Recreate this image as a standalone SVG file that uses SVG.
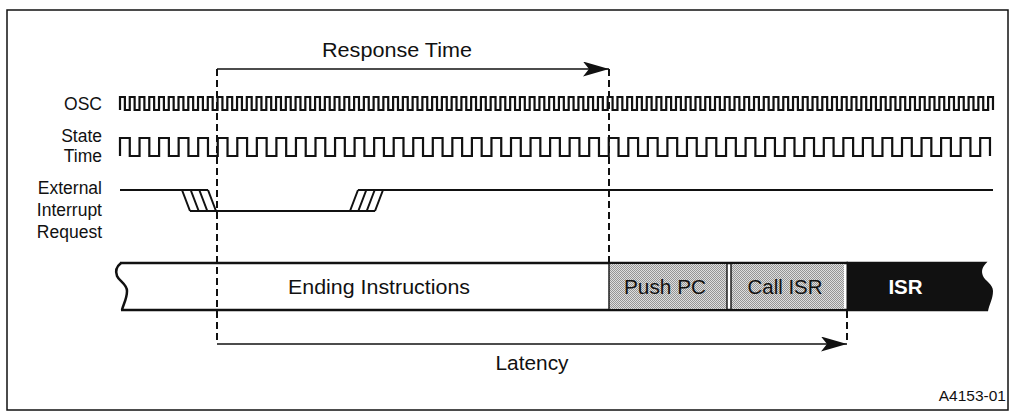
<svg xmlns="http://www.w3.org/2000/svg" width="1015" height="417" viewBox="0 0 1015 417">
<defs>
<style>
.lbl{font-family:"Liberation Sans",Arial,sans-serif;font-size:17.5px;fill:#111;text-anchor:end}
.big{font-family:"Liberation Sans",Arial,sans-serif;font-size:20.5px;fill:#111;text-anchor:middle}
.wave{fill:none;stroke:#111;stroke-width:2.2;stroke-linejoin:miter}
.dash{fill:none;stroke:#111;stroke-width:2;stroke-dasharray:7 4}
.arr{fill:none;stroke:#111;stroke-width:1.3}
.edge{fill:none;stroke:#111;stroke-width:2.5}
.thin{fill:none;stroke:#111;stroke-width:1.4}
.hat{fill:none;stroke:#111;stroke-width:2}
</style>
<pattern id="stip" patternUnits="userSpaceOnUse" width="2" height="2">
<rect width="2" height="2" fill="#dedede"/>
<rect width="1" height="1" fill="#959595"/>
<rect x="1" y="1" width="1" height="1" fill="#959595"/>
</pattern>
<marker id="ah" markerUnits="userSpaceOnUse" markerWidth="26" markerHeight="15" refX="26" refY="7.5" orient="auto">
<path d="M0,0 L26,7.5 L0,15 L6,7.5 Z" fill="#111"/>
</marker>
</defs>
<rect x="7" y="10" width="1001" height="400" fill="#fff" stroke="#111" stroke-width="1.5"/>

<g id="labels">
<text class="lbl" x="102" y="110">OSC</text>
<text class="lbl" x="102" y="141.5">State</text>
<text class="lbl" x="102" y="161.5">Time</text>
<text class="lbl" x="102" y="194">External</text>
<text class="lbl" x="102" y="216">Interrupt</text>
<text class="lbl" x="102" y="238">Request</text>
</g>

<g id="osc">
<path class="wave" d="M120,110
v-13h4.877v13h4.877v-13h4.877v13h4.877v-13h4.877v13h4.877v-13h4.877v13h4.877v-13h4.877v13h4.877v-13h4.877v13h4.877v-13h4.877v13h4.877v-13h4.877v13h4.877v-13h4.877v13h4.877v-13h4.877v13h4.877
v-13h4.877v13h4.877v-13h4.877v13h4.877v-13h4.877v13h4.877v-13h4.877v13h4.877v-13h4.877v13h4.877v-13h4.877v13h4.877v-13h4.877v13h4.877v-13h4.877v13h4.877v-13h4.877v13h4.877v-13h4.877v13h4.877
v-13h4.877v13h4.877v-13h4.877v13h4.877v-13h4.877v13h4.877v-13h4.877v13h4.877v-13h4.877v13h4.877v-13h4.877v13h4.877v-13h4.877v13h4.877v-13h4.877v13h4.877v-13h4.877v13h4.877v-13h4.877v13h4.877
v-13h4.877v13h4.877v-13h4.877v13h4.877v-13h4.877v13h4.877v-13h4.877v13h4.877v-13h4.877v13h4.877v-13h4.877v13h4.877v-13h4.877v13h4.877v-13h4.877v13h4.877v-13h4.877v13h4.877v-13h4.877v13h4.877
v-13h4.877v13h4.877v-13h4.877v13h4.877v-13h4.877v13h4.877v-13h4.877v13h4.877v-13h4.877v13h4.877v-13h4.877v13h4.877v-13h4.877v13h4.877v-13h4.877v13h4.877v-13h4.877v13h4.877v-13h4.877v13h4.877
v-13h4.877v13h4.877v-13h4.877v13h4.877v-13h4.877v13h4.877v-13h4.877v13h4.877v-13h4.877v13h4.877v-13h4.877v13h4.877v-13h4.877v13h4.877v-13h4.877v13h4.877v-13h4.877v13h4.877v-13h4.877v13h4.877
v-13h4.877v13h4.877v-13h4.877v13h4.877v-13h4.877v13h4.877v-13h4.877v13h4.877v-13h4.877v13h4.877v-13h4.877v13h4.877v-13h4.877v13h4.877v-13h4.877v13h4.877v-13h4.877v13h4.877v-13h4.877v13h4.877
v-13h4.877v13h4.877v-13h4.877v13h4.877v-13h4.877v13h4.877v-13h4.877v13h4.877v-13h4.877v13h4.877v-13h4.877v13h4.877v-13h4.877v13h4.877v-13h4.877v13h4.877v-13h4.877v13h4.877v-13h4.877v13h4.877
v-13h4.877v13h4.877v-13h4.877v13h4.877v-13h4.877v13h4.877v-13h4.877v13h4.877v-13h4.877v13h4.877v-13h4.877v13h4.877v-13h4.877v13h4.877v-13h4.877v13h4.877v-13h4.877v13h4.877
v-13h4.877v13"/>
</g>

<g id="state-time">
<path class="wave" d="M120,156
v-18h9.775v18h9.775v-18h9.775v18h9.775v-18h9.775v18h9.775v-18h9.775v18h9.775v-18h9.775v18h9.775v-18h9.775v18h9.775v-18h9.775v18h9.775v-18h9.775v18h9.775v-18h9.775v18h9.775v-18h9.775v18h9.775
v-18h9.775v18h9.775v-18h9.775v18h9.775v-18h9.775v18h9.775v-18h9.775v18h9.775v-18h9.775v18h9.775v-18h9.775v18h9.775v-18h9.775v18h9.775v-18h9.775v18h9.775v-18h9.775v18h9.775v-18h9.775v18h9.775
v-18h9.775v18h9.775v-18h9.775v18h9.775v-18h9.775v18h9.775v-18h9.775v18h9.775v-18h9.775v18h9.775v-18h9.775v18h9.775v-18h9.775v18h9.775v-18h9.775v18h9.775v-18h9.775v18h9.775v-18h9.775v18h9.775
v-18h9.775v18h9.775v-18h9.775v18h9.775v-18h9.775v18h9.775v-18h9.775v18h9.775v-18h9.775v18h9.775v-18h9.775v18h9.775v-18h9.775v18h9.775v-18h9.775v18h9.775v-18h9.775v18h9.775v-18h9.775v18h9.775
v-18h9.775v18h9.775v-18h9.775v18h9.775v-18h9.775v18h9.775v-18h9.775v18h9.775
v-18h9.775v18"/>
</g>

<g id="external-interrupt">
<path class="wave" d="M120,190 H208 M190,211 H375 M358,190 H993"/>
<path class="hat" d="M182,190 L190,211 M190.7,190 L198.7,211 M199.3,190 L207.3,211 M208,190 L216,211"/>
<path class="hat" d="M350,211 L358,190 M358.3,211 L366.3,190 M366.7,211 L374.7,190 M375,211 L383,190"/>
</g>

<g id="instruction-bar">
<g id="ending-instructions">
<path class="edge" d="M121,263 C116,267 115,271 117,276 C119,281 127,284 127,291 C127,299 123,305 122,310"/>
<path class="edge" d="M120,263 H848 M121,310 H848"/>
<text class="big" x="379" y="294" textLength="182" lengthAdjust="spacingAndGlyphs">Ending Instructions</text>
</g>
<g id="push-pc">
<rect x="609" y="264" width="118" height="45" fill="url(#stip)"/>
<line class="thin" x1="609" y1="263" x2="609" y2="310"/>
<line class="thin" x1="727" y1="263" x2="727" y2="310"/>
<text class="big" x="665" y="294" textLength="82" lengthAdjust="spacingAndGlyphs">Push PC</text>
</g>
<g id="call-isr">
<rect x="731" y="264" width="113" height="45" fill="url(#stip)"/>
<line class="thin" x1="731" y1="263" x2="731" y2="310"/>
<text class="big" x="785" y="294" textLength="75" lengthAdjust="spacingAndGlyphs">Call ISR</text>
</g>
<g id="isr">
<path d="M846.5,261.8 H987.5 C982,267 981,271 983,276 C985,281 993,284 993,291 C993,299 989,305 988,311.3 H846.5 Z" fill="#111"/>
<text class="big" x="905.5" y="294" style="fill:#fff;font-weight:bold">ISR</text>
</g>
</g>

<g id="connectors">
<path class="dash" d="M217,69 V344"/>
<path class="dash" d="M609,69 V263"/>
<path class="dash" d="M847,311 V342"/>
<path class="arr" d="M217,69 H609" marker-end="url(#ah)"/>
<path class="arr" d="M217,344 H847" marker-end="url(#ah)"/>
<text class="big" x="397" y="57" textLength="150" lengthAdjust="spacingAndGlyphs">Response Time</text>
<text class="big" x="532" y="370" textLength="73" lengthAdjust="spacingAndGlyphs">Latency</text>
</g>

<text x="1006" y="401" style="font-family:'Liberation Sans',Arial,sans-serif;font-size:15.5px;fill:#111;text-anchor:end">A4153-01</text>
</svg>
